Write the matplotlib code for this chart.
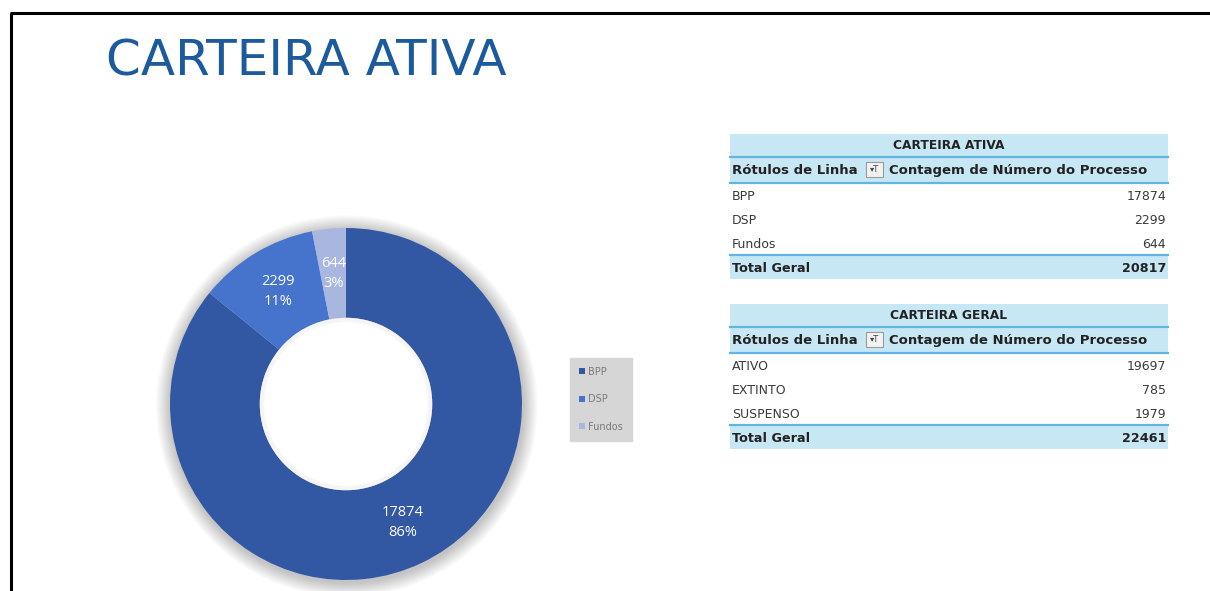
import numpy as np
import matplotlib
matplotlib.use("Agg")
import matplotlib.pyplot as plt
from matplotlib.patches import Rectangle, Circle

# donut data (carteira ativa)
categorias = ["BPP", "DSP", "Fundos"]
valores = [17874, 2299, 644]
cores = ["#3258a4", "#4673cc", "#a9b7e0"]

# pivot tables
ativa_rotulos = ["BPP", "DSP", "Fundos"]
ativa_valores = [17874, 2299, 644]
geral_rotulos = ["ATIVO", "EXTINTO", "SUSPENSO"]
geral_valores = [19697, 785, 1979]

W, H = 1210, 591
fig = plt.figure(figsize=(W / 100, H / 100), dpi=100)
fig.patch.set_facecolor("white")

# overlay in pixel coordinates for frame, title and tables
ov = fig.add_axes([0, 0, 1, 1])
ov.set_xlim(0, W)
ov.set_ylim(H, 0)
ov.axis("off")

ov.plot([10, W], [13, 13], color="black", lw=2.2, solid_capstyle="butt")
ov.plot([10.5, 10.5], [13, H], color="black", lw=2.2, solid_capstyle="butt")

ov.text(106, 61, "CARTEIRA ATIVA", fontsize=36, color="#1b5a9c",
        family="DejaVu Sans", va="center", ha="left")

azul_claro = "#c8e7f5"
azul_linha = "#62b5de"
txt_cor = "#3a3a3a"
tfont = "DejaVu Sans"
x0, x1 = 730, 1168


def tabela(y_top, titulo, rotulos, vals):
    # header band
    ov.add_patch(Rectangle((x0, y_top), x1 - x0, 22, color=azul_claro, lw=0))
    ov.text((x0 + x1) / 2, y_top + 11.5, titulo, fontsize=8.8, weight="bold",
            color="#222222", family=tfont, ha="center", va="center")
    ov.plot([x0, x1], [y_top + 23, y_top + 23], color=azul_linha, lw=1.6)
    # column header
    yh = y_top + 24
    ov.add_patch(Rectangle((x0, yh), x1 - x0, 24, color=azul_claro, lw=0))
    ov.text(x0 + 2, yh + 12.5, "Rótulos de Linha", fontsize=9.5, weight="bold",
            color="#222222", family=tfont, ha="left", va="center")
    ov.add_patch(Rectangle((866, yh + 4), 17, 15, facecolor="#f2f2f2",
                           edgecolor="#9a9a9a", lw=0.8))
    ov.text(874.5, yh + 11, "▾T", fontsize=6, color="#444444", family=tfont,
            ha="center", va="center")
    ov.text(889, yh + 12.5, "Contagem de Número do Processo", fontsize=9.5,
            weight="bold", color="#222222", family=tfont, ha="left", va="center")
    ov.plot([x0, x1], [yh + 25, yh + 25], color=azul_linha, lw=1.6)
    # data rows
    for i, (r, v) in enumerate(zip(rotulos, vals)):
        yr = yh + 38 + i * 24
        ov.text(x0 + 2, yr, r, fontsize=9, color=txt_cor, family=tfont,
                ha="left", va="center")
        ov.text(x1 - 2, yr, str(v), fontsize=9, color=txt_cor, family=tfont,
                ha="right", va="center")
    yt = yh + 25 + 24 * len(rotulos) + 1
    ov.plot([x0, x1], [yt - 1, yt - 1], color=azul_linha, lw=1.6)
    ov.add_patch(Rectangle((x0, yt), x1 - x0, 23, color=azul_claro, lw=0))
    ov.text(x0 + 2, yt + 12, "Total Geral", fontsize=9.2, weight="bold",
            color="#222222", family=tfont, ha="left", va="center")
    ov.text(x1 - 2, yt + 12, str(sum(vals)), fontsize=9.2, weight="bold",
            color="#222222", family=tfont, ha="right", va="center")


tabela(134, "CARTEIRA ATIVA", ativa_rotulos, ativa_valores)
tabela(304, "CARTEIRA GERAL", geral_rotulos, geral_valores)

# donut chart
cx, cy, R = 346, 404, 176
pad = 20
ax = fig.add_axes([(cx - R - pad) / W, (H - cy - R - pad) / H,
                   2 * (R + pad) / W, 2 * (R + pad) / H])
ax.axis("off")

# soft shadow around the ring
for k in range(12):
    ax.add_patch(Circle((0.005, -0.012), 1.0 + 0.007 * (k + 1), color="#000000",
                        alpha=0.018, lw=0, zorder=0))
for k in range(4):
    ax.add_patch(Circle((0, 0), 0.49 - 0.007 * k, fill=False, ec="#000000",
                        alpha=0.025, lw=1.5, zorder=3))

total = sum(valores)


def rotulo(p):
    v = int(round(p * total / 100))
    return "{}\n{:.0f}%".format(v, p)


wedges, _, autot = ax.pie(valores, colors=cores, startangle=90, counterclock=False,
                          radius=1.0, wedgeprops=dict(width=0.51, linewidth=0),
                          autopct=rotulo, pctdistance=0.745,
                          textprops=dict(color="white", fontsize=10.5,
                                         family=["Open Sans", "DejaVu Sans"],
                                         linespacing=1.5))
for w in wedges:
    w.set_zorder(2)
for t in autot:
    t.set_zorder(4)
ax.add_patch(Circle((0, 0), 0.49, color="white", lw=0, zorder=2.5))
ax.set_aspect("equal")
ax.set_xlim(-(R + pad) / R, (R + pad) / R)
ax.set_ylim(-(R + pad) / R, (R + pad) / R)

leg = fig.legend(wedges, categorias, loc="upper left",
                 bbox_to_anchor=(570 / W, 1 - 358 / H), fontsize=7,
                 frameon=True, facecolor="#d6d6d6", edgecolor="#d6d6d6",
                 fancybox=False, framealpha=1, handlelength=0.6,
                 handleheight=0.6, labelspacing=1.8, handletextpad=0.4,
                 borderpad=0.9, borderaxespad=0)
for t in leg.get_texts():
    t.set_color("#7a7a7a")

fig.savefig("out.png", dpi=100)
